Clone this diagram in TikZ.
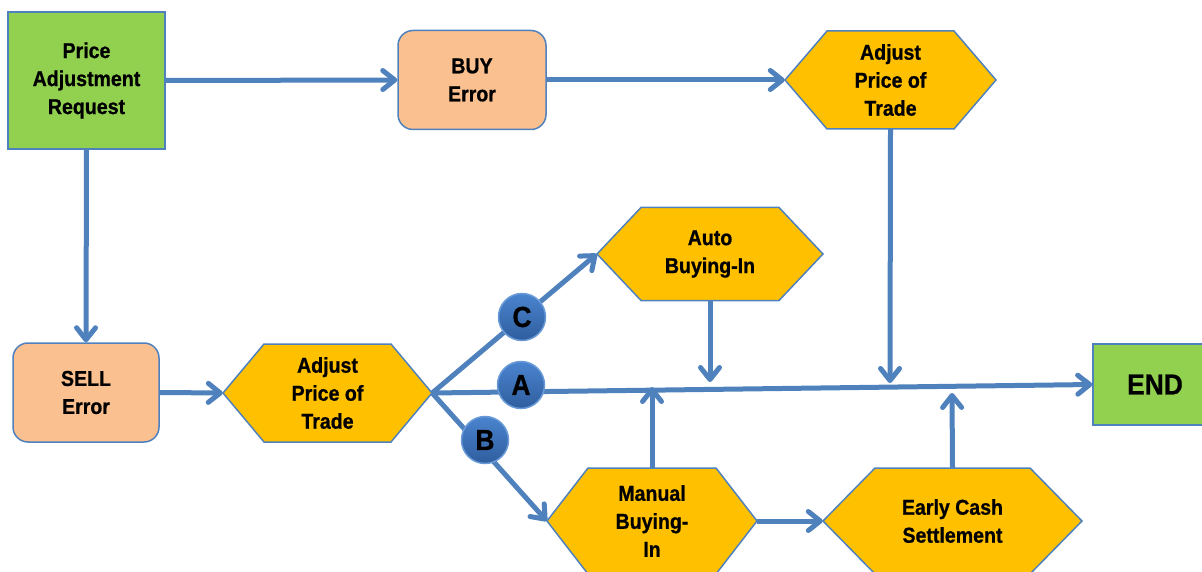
\documentclass[tikz,border=0pt]{standalone}
\usepackage{fontspec}
\setmainfont{Liberation Sans}[FakeStretch=0.91, BoldFeatures={FakeBold=0.8}]
\usetikzlibrary{arrows.meta}
\definecolor{lineblue}{HTML}{4F81BD}
\definecolor{boxgreen}{HTML}{92D050}
\definecolor{peach}{HTML}{FAC090}
\definecolor{gold}{HTML}{FFC000}
\definecolor{circA}{HTML}{4A84CF}
\definecolor{circB}{HTML}{2F5E9E}
\definecolor{circedge}{HTML}{6A9BD8}
\newcommand\hexbg[5]{% cx, cy, half width, half height, slant
  \path[hexbody] (#1-#3,#2) -- (#1-#3+#5,#2-#4) -- (#1+#3-#5,#2-#4) -- (#1+#3,#2)
    -- (#1+#3-#5,#2+#4) -- (#1-#3+#5,#2+#4) -- cycle;}
\begin{document}
\begin{tikzpicture}[x=1pt,y=-1pt,
  lbl/.style={font=\bfseries\fontsize{21.5}{28}\selectfont, align=center, inner sep=0pt},
  greenbox/.style={lbl, draw=lineblue, line width=1.5pt, fill=boxgreen},
  errbox/.style={lbl, draw=lineblue, line width=1.5pt, fill=peach, rounded corners=15pt},
  hexbody/.style={draw=lineblue, line width=1.5pt, fill=gold, line join=miter},
  conn/.style={draw=lineblue, line width=5pt},
  arr/.style={conn, -{Straight Barb[round,length=12pt,width=19pt]}},
  badge/.style={circle, minimum size=47pt, inner sep=0pt, draw=circedge, line width=1.5pt,
    top color=circA, bottom color=circB, font=\bfseries\fontsize{29}{29}\selectfont, text=black}
]
\useasboundingbox (0,0) rectangle (1202,572);

% boxes
\node[greenbox, minimum width=157pt, minimum height=137pt] (par) at (86.5,80.5) {Price\\Adjustment\\Request};
\node[errbox, minimum width=148pt, minimum height=99pt] (buy) at (472,80) {BUY\\Error};
\node[errbox, minimum width=146pt, minimum height=99pt] (sell) at (86,392.5) {SELL\\Error};
\node[greenbox, minimum width=124pt, minimum height=81pt, font=\bfseries\fontsize{29}{29}\selectfont] (endn) at (1155,384.5) {END};

% hexagons
\hexbg{890.5}{80}{105.5}{49}{42}
\node[lbl, minimum width=211pt, minimum height=98pt] (adjtop) at (890.5,80) {Adjust\\Price of\\Trade};
\hexbg{327.5}{393}{104.5}{49}{41}
\node[lbl, minimum width=209pt, minimum height=98pt] (adjmid) at (327.5,393) {Adjust\\Price of\\Trade};
\hexbg{710}{254}{113}{46.5}{44}
\node[lbl, minimum width=226pt, minimum height=93pt] (auto) at (710,254) {Auto\\Buying-In};
\hexbg{652}{521}{105}{53}{41}
\node[lbl, minimum width=210pt, minimum height=106pt] (manual) at (652,521) {Manual\\Buying-\\In};
\hexbg{952.5}{521}{129.5}{53}{52}
\node[lbl, minimum width=259pt, minimum height=106pt] (early) at (952.5,521) {Early Cash\\Settlement};

% arrow end points on the main line
\coordinate (t1) at (890,383);
\coordinate (t2) at (710,382);
\coordinate (t3) at (652,387);
\coordinate (t4) at (952,393);

% connectors
\draw[arr] (par.east) -- (buy.west);
\draw[arr] (buy.east) -- (adjtop.west);
\draw[arr] (par.south) -- (sell.north);
\draw[arr] (sell.east) -- (adjmid.west);
\draw[arr] (adjmid.east) -- (endn.west);
\draw[arr] (adjmid.east) -- (auto.west);
\draw[arr] (adjmid.east) -- (manual.west);
\draw[arr] (adjtop.south) -- (t1);
\draw[arr] (auto.south) -- (t2);
\draw[arr] (manual.north) -- (t3);
\draw[arr] (early.north) -- (t4);
\draw[arr] (manual.east) -- (early.west);

% badges
\node[badge] (bc) at (522,317) {\raisebox{-3pt}{C}};
\node[badge] (ba) at (521,385) {\raisebox{-3pt}{A}};
\node[badge] (bb) at (485,440) {\raisebox{-3pt}{B}};
\end{tikzpicture}
\end{document}
